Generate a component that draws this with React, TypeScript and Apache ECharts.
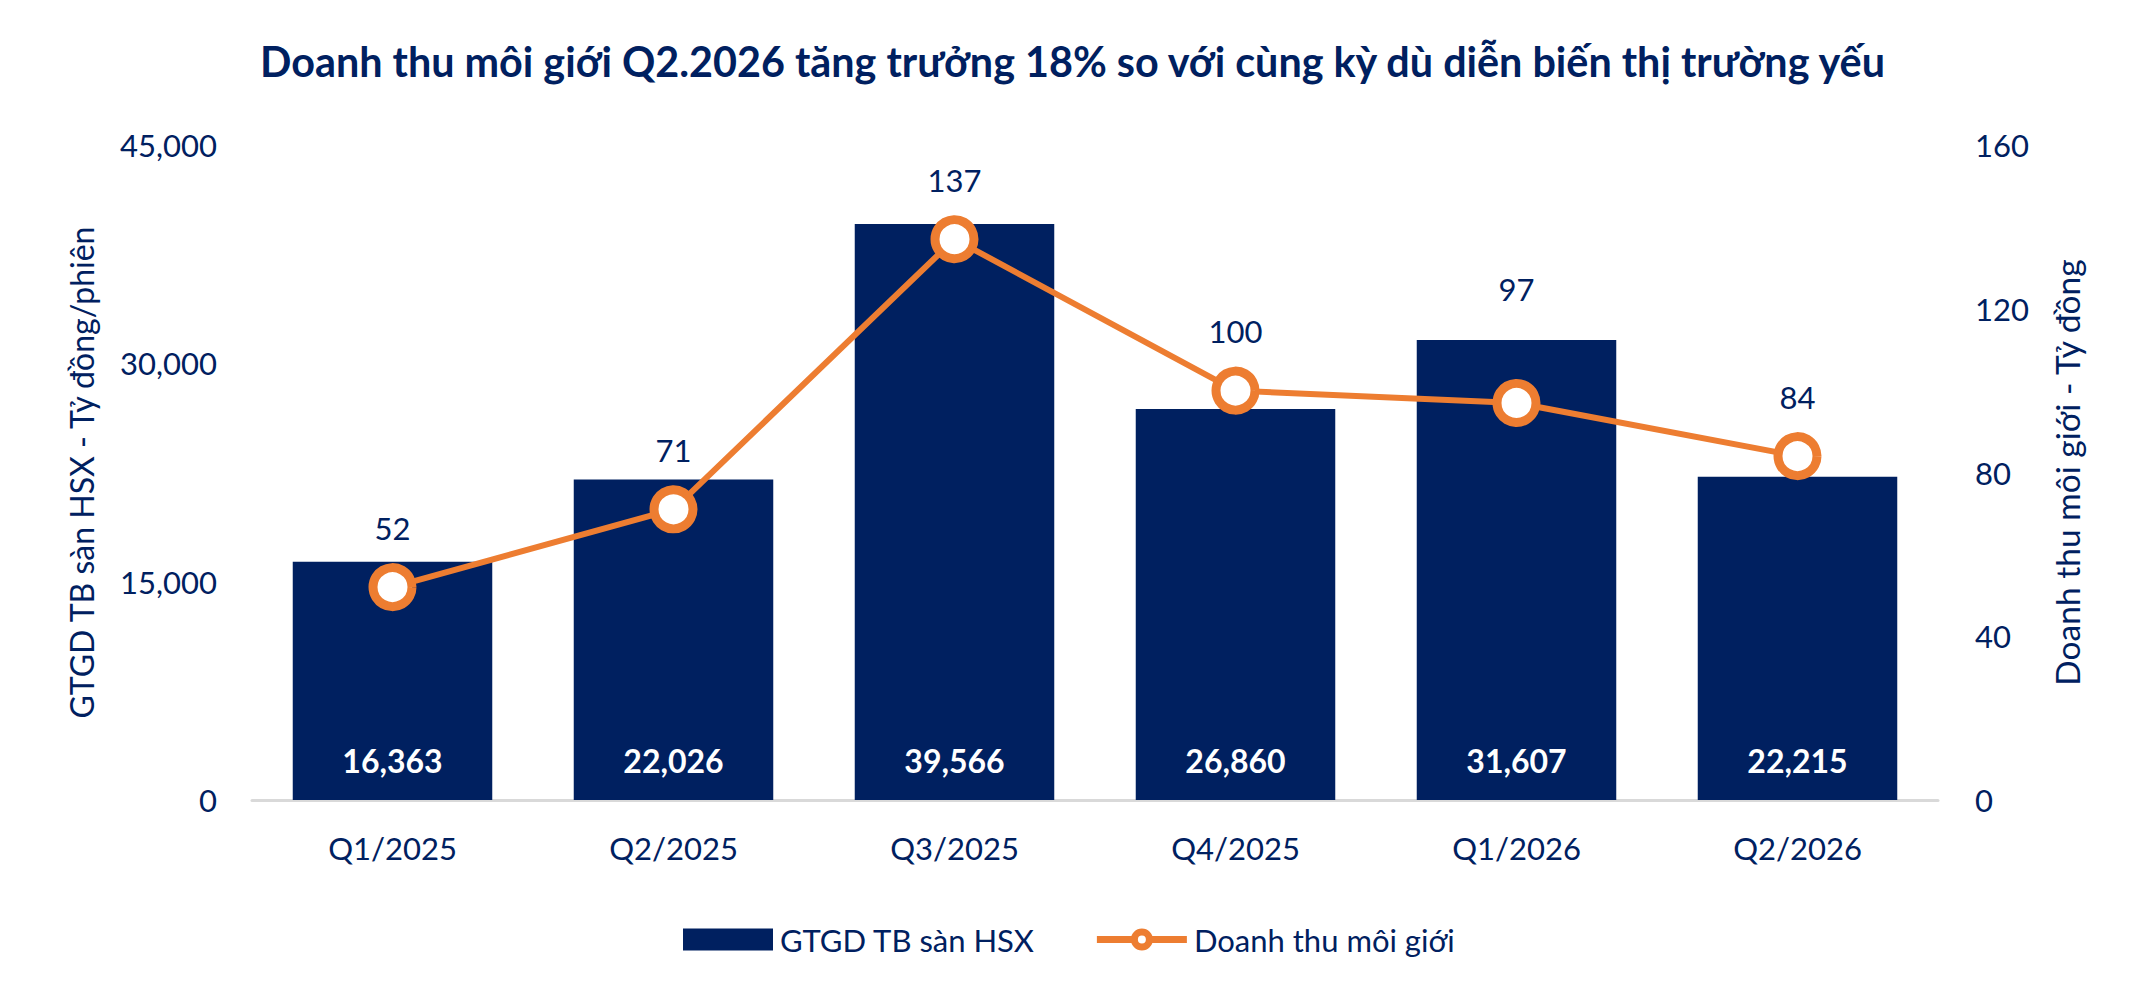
import React, { useEffect, useRef } from "react";
import * as echarts from "echarts";

const categories = ["Q1/2025", "Q2/2025", "Q3/2025", "Q4/2025", "Q1/2026", "Q2/2026"];
const tradingValue = [16363, 22026, 39566, 26860, 31607, 22215];
const brokerageRevenue = [52, 71, 137, 100, 97, 84];
const leftTicks = { min: 0, max: 45000, interval: 15000 };
const rightTicks = { min: 0, max: 160, interval: 40 };

const NAVY = "#002060";
const ORANGE = "#ED7D31";
const FONT = "Lato";

const LINE_ICON =
  "path://M0 7.5 H38 V14.5 H0 Z M52 7.5 H90 V14.5 H52 Z " +
  "M56 11 A11 11 0 1 1 34 11 A11 11 0 1 1 56 11 Z " +
  "M49 11 A4 4 0 1 0 41 11 A4 4 0 1 0 49 11 Z";

export default function App() {
  const ref = useRef<HTMLDivElement>(null);
  useEffect(() => {
    document.body.style.margin = "0";
    if (!ref.current) return;
    const chart = echarts.init(ref.current, null, { renderer: "svg" });
    chart.setOption({
      animation: false,
      backgroundColor: "#ffffff",
      textStyle: { fontFamily: FONT, color: NAVY },
      title: {
        text: "Doanh thu môi giới Q2.2026 tăng trưởng 18% so với cùng kỳ dù diễn biến thị trường yếu",
        left: "center",
        top: 40,
        padding: 0,
        textStyle: { fontFamily: FONT, fontWeight: "bold", fontSize: 41.3, color: NAVY },
      },
      legend: {
        left: 678,
        top: 919,
        itemWidth: 90,
        itemHeight: 22,
        itemGap: 62,
        symbolKeepAspect: false,
        textStyle: { fontFamily: FONT, fontSize: 31, color: NAVY, padding: [0, 0, 0, 2] },
        data: [
          { name: "GTGD TB sàn HSX", icon: "rect" },
          {
            name: "Doanh thu môi giới",
            icon: LINE_ICON,
            itemStyle: { color: ORANGE, borderWidth: 0 },
          },
        ],
      },
      grid: { left: 252, right: 207, top: 145, bottom: 198 },
      xAxis: {
        type: "category",
        data: categories,
        axisLine: { lineStyle: { color: "#d9d9d9", width: 3 } },
        axisTick: { show: false },
        axisLabel: { fontFamily: FONT, fontSize: 31, color: NAVY, margin: 32 },
      },
      yAxis: [
        {
          type: "value",
          min: leftTicks.min,
          max: leftTicks.max,
          interval: leftTicks.interval,
          splitLine: { show: false },
          axisLine: { show: false },
          axisTick: { show: false },
          axisLabel: {
            fontFamily: FONT,
            fontSize: 31,
            color: NAVY,
            margin: 35,
            formatter: (v: number) => v.toLocaleString("en-US"),
          },
          name: "GTGD TB sàn HSX - Tỷ đồng/phiên",
          nameLocation: "middle",
          nameRotate: 90,
          nameGap: 155,
          nameTextStyle: { fontFamily: FONT, fontSize: 32, color: NAVY },
        },
        {
          type: "value",
          min: rightTicks.min,
          max: rightTicks.max,
          interval: rightTicks.interval,
          splitLine: { show: false },
          axisLine: { show: false },
          axisTick: { show: false },
          axisLabel: { fontFamily: FONT, fontSize: 31, color: NAVY, margin: 37 },
          name: "Doanh thu môi giới - Tỷ đồng",
          nameLocation: "middle",
          nameRotate: 90,
          nameGap: 112,
          nameTextStyle: { fontFamily: FONT, fontSize: 33.5, color: NAVY },
        },
      ],
      series: [
        {
          name: "GTGD TB sàn HSX",
          type: "bar",
          data: tradingValue,
          barCategoryGap: "29%",
          itemStyle: { color: NAVY },
          label: {
            show: true,
            position: "insideBottom",
            distance: 24,
            color: "#ffffff",
            fontFamily: FONT,
            fontWeight: "bold",
            fontSize: 32,
            formatter: (p: any) => Number(p.value).toLocaleString("en-US"),
          },
        },
        {
          name: "Doanh thu môi giới",
          type: "line",
          yAxisIndex: 1,
          data: brokerageRevenue.map((v, i) =>
            i === 4 ? { value: v, label: { distance: 74 } } : v
          ),
          symbol: "circle",
          symbolSize: 39,
          lineStyle: { color: ORANGE, width: 6 },
          itemStyle: { color: "#ffffff", borderColor: ORANGE, borderWidth: 9 },
          label: {
            show: true,
            position: "top",
            distance: 20,
            color: NAVY,
            fontFamily: FONT,
            fontSize: 31,
          },
          z: 3,
        },
      ],
    });
    return () => chart.dispose();
  }, []);
  return <div ref={ref} style={{ width: 2145, height: 998 }} />;
}
